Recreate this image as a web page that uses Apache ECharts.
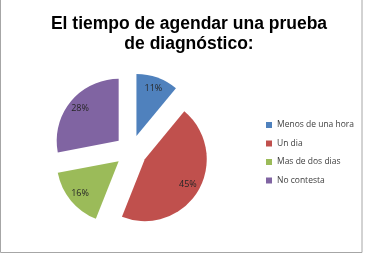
<!DOCTYPE html>
<html>
<head>
<meta charset="utf-8">
<script src="https://cdn.jsdelivr.net/npm/echarts@6/dist/echarts.min.js"></script>
<style>
  html, body { margin: 0; padding: 0; background: #fff; }
  #chart { width: 365px; height: 254px; }
</style>
</head>
<body>
<div id="chart"></div>
<script>
// datos
const categorias = ['Menos de una hora', 'Un dia', 'Mas de dos dias', 'No contesta'];
const valores = [11, 45, 16, 28];
const colores = ['#4F81BD', '#C0504D', '#9BBB59', '#8064A2'];

const chart = echarts.init(document.getElementById('chart'), null, { renderer: 'canvas' });

const center = [131, 151];
const R = 62;
const offset = 16;

// todas las porciones separadas (explotadas)
const datos = categorias.map((name, i) => ({
  name: name,
  value: valores[i],
  selected: true,
  itemStyle: { color: colores[i] }
}));

const option = {
  animation: false,
  title: {
    text: 'El tiempo de agendar una prueba\nde diagnóstico:',
    left: 184,
    top: 9,
    textAlign: 'center',
    textStyle: {
      fontFamily: 'Liberation Sans, Arial, sans-serif',
      fontWeight: 'bold',
      fontSize: 17.5,
      lineHeight: 20,
      color: '#000'
    }
  },
  legend: {
    orient: 'vertical',
    left: 261,
    top: 115,
    itemWidth: 6,
    itemHeight: 6,
    itemGap: 8.5,
    icon: 'rect',
    selectedMode: false,
    data: categorias,
    textStyle: {
      fontFamily: 'Open Sans, sans-serif',
      fontSize: 8.5,
      lineHeight: 10,
      color: '#404040'
    }
  },
  graphic: [{
    type: 'rect',
    shape: { x: 0.5, y: -2, width: 361.5, height: 254.5 },
    style: { fill: 'none', stroke: '#a6a6a6', lineWidth: 1 },
    silent: true
  }],
  series: [{
    type: 'pie',
    center: center,
    radius: [0, R],
    startAngle: 90,
    clockwise: true,
    selectedMode: 'multiple',
    selectedOffset: offset,
    emphasis: { disabled: true },
    label: { show: false },
    labelLine: { show: false },
    data: datos
  }, {
    // capa transparente solo para colocar las etiquetas más afuera
    type: 'pie',
    center: center,
    radius: [R * 0.52, R],
    startAngle: 90,
    clockwise: true,
    selectedMode: 'multiple',
    selectedOffset: offset,
    emphasis: { disabled: true },
    silent: true,
    itemStyle: { color: 'rgba(0,0,0,0)' },
    label: {
      show: true,
      position: 'inside',
      formatter: p => p.value + '%',
      fontFamily: 'Open Sans, sans-serif',
      fontSize: 9,
      color: '#262626'
    },
    labelLine: { show: false },
    data: categorias.map((name, i) => ({ name: name, value: valores[i], selected: true }))
  }]
};

chart.setOption(option);
</script>
</body>
</html>
